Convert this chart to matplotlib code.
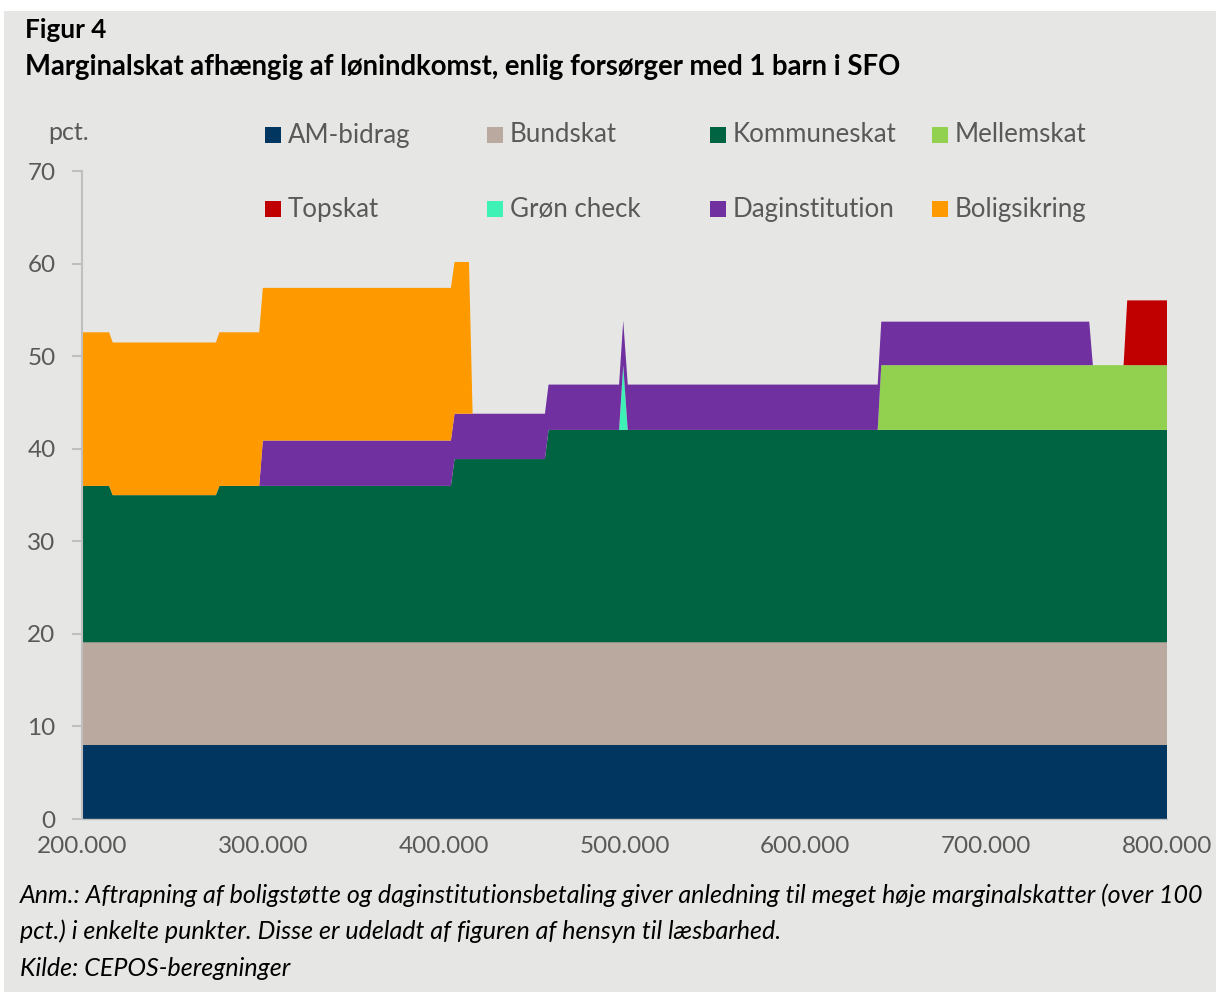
import matplotlib.pyplot as plt
from matplotlib.patches import Rectangle

# income breakpoints (kr) and marginal tax contributions (pct.)
income = [200000, 215000, 217000, 274000, 276000, 298000, 300000, 404000,
          406000, 414000, 416000, 456000, 458000, 497000, 499300, 501800,
          640000, 642000, 757000, 759000, 776000, 778000, 800000]
am_bidrag = [8.0] * 23
bundskat = [11.1] * 23
kommuneskat = [16.9, 16.9, 15.9, 15.9, 16.9, 16.9, 16.9, 16.9,
               19.8, 19.8, 19.8, 19.8, 22.95, 22.95, 22.95, 22.95,
               22.95, 22.95, 22.95, 22.95, 22.95, 22.95, 22.95]
mellemskat = [0, 0, 0, 0, 0, 0, 0, 0, 0, 0, 0, 0, 0, 0, 0, 0,
              0, 7.0, 7.0, 7.0, 7.0, 7.0, 7.0]
topskat = [0, 0, 0, 0, 0, 0, 0, 0, 0, 0, 0, 0, 0, 0, 0, 0,
           0, 0, 0, 0, 0, 7.0, 7.0]
groen_check = [0, 0, 0, 0, 0, 0, 0, 0, 0, 0, 0, 0, 0, 0, 7.0, 0,
               0, 0, 0, 0, 0, 0, 0]
daginstitution = [0, 0, 0, 0, 0, 0, 4.9, 4.9, 4.9, 4.9, 4.9, 4.9,
                  4.9, 4.9, 4.8, 4.9, 4.9, 4.7, 4.7, 0, 0, 0, 0]
boligsikring = [16.6, 16.6, 16.5, 16.5, 16.6, 16.6, 16.5, 16.5,
                16.4, 16.4, 0, 0, 0, 0, 0, 0, 0, 0, 0, 0, 0, 0, 0]

labels = ["AM-bidrag", "Bundskat", "Kommuneskat", "Mellemskat",
          "Topskat", "Grøn check", "Daginstitution", "Boligsikring"]
colors = ["#00365F", "#BAA99F", "#006342", "#92D050",
          "#C00000", "#3DF2B4", "#7030A0", "#FF9900"]

bg = "#E6E6E4"
grey = "#595959"
plt.rcParams['font.family'] = ['Lato', 'DejaVu Sans']

fig = plt.figure(figsize=(12.16, 9.92), dpi=100)
fig.patches.append(Rectangle((4/1216, 0), 1, 1 - 11/992, transform=fig.transFigure,
                             facecolor=bg, edgecolor='none', zorder=-10))

ax = fig.add_axes([82/1216, 1 - 819/992, (1167-82)/1216, (819-171.3)/992])
ax.set_facecolor(bg)
ax.stackplot(income, am_bidrag, bundskat, kommuneskat, mellemskat, topskat,
             groen_check, daginstitution, boligsikring, colors=colors,
             linewidth=0)

ax.set_xlim(200000, 800000)
ax.set_ylim(0, 70)
ax.set_xticks(range(200000, 800001, 100000))
ax.set_xticklabels([f"{v:,}".replace(",", ".") for v in range(200000, 800001, 100000)])
ax.set_yticks(range(0, 71, 10))
ax.tick_params(axis='x', length=0, pad=12, labelsize=17.5, labelcolor=grey)
ax.tick_params(axis='y', length=7, width=1.5, color="#BFBFBF", pad=12,
               labelsize=17.5, labelcolor=grey)
for s in ['top', 'right']:
    ax.spines[s].set_visible(False)
ax.spines['left'].set_color("#BFBFBF")
ax.spines['left'].set_linewidth(1.5)
ax.spines['bottom'].set_color("#BFBFBF")
ax.spines['bottom'].set_linewidth(1.0)

# legend, laid out in rows like the original
col_x = [265, 487, 710, 932]
row_y = [135, 209]
for i, (lab, col) in enumerate(zip(labels, colors)):
    x0 = col_x[i % 4]
    y0 = row_y[i // 4]
    fig.patches.append(Rectangle((x0/1216, 1 - (y0+8)/992), 16/1216, 16/992,
                                 transform=fig.transFigure, facecolor=col,
                                 edgecolor='none'))
    fig.text((x0+23)/1216, 1 - y0/992, lab, fontsize=18.6, color=grey,
             va='center', ha='left')

fig.text(48/1216, 1 - 133/992, "pct.", fontsize=18, color=grey, va='center')

fig.text(25/1216, 1 - 30/992, "Figur 4", fontsize=18.8, fontweight='bold',
         va='center', ha='left')
fig.text(25/1216, 1 - 67/992,
         "Marginalskat afhængig af lønindkomst, enlig forsørger med 1 barn i SFO",
         fontsize=19.8, fontweight='bold', va='center', ha='left')

notes = ["Anm.: Aftrapning af boligstøtte og daginstitutionsbetaling giver anledning til meget høje marginalskatter (over 100",
         "pct.) i enkelte punkter. Disse er udeladt af figuren af hensyn til læsbarhed.",
         "Kilde: CEPOS-beregninger"]
for k, line in enumerate(notes):
    fig.text(20/1216, 1 - (895 + 36.5*k)/992, line, fontsize=18,
             style='italic', va='center', ha='left')

fig.savefig("out.png", dpi=100, facecolor='white')
